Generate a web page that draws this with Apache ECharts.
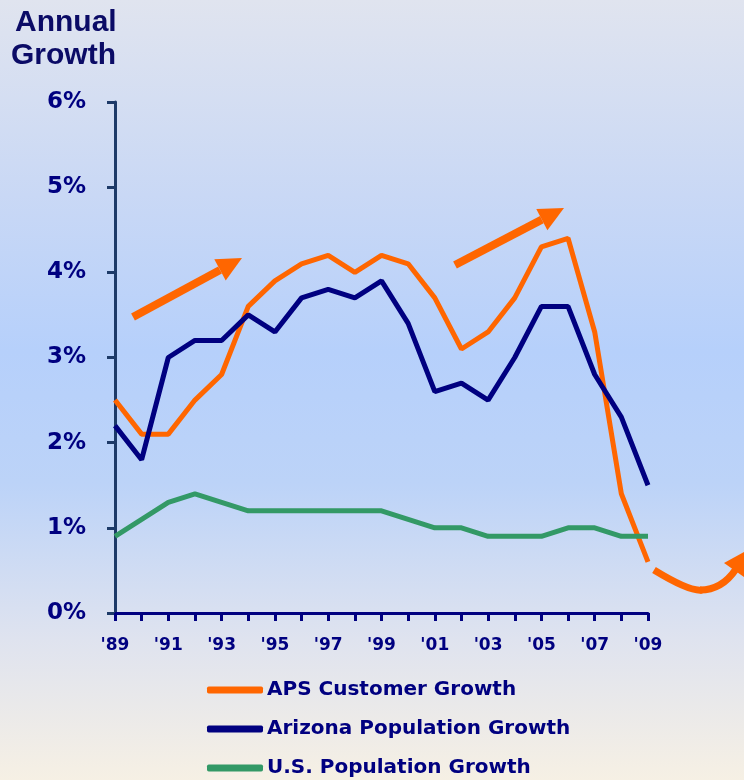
<!DOCTYPE html>
<html>
<head>
<meta charset="utf-8">
<script src="https://cdn.jsdelivr.net/npm/echarts@6/dist/echarts.min.js"></script>
<style>
  html, body { margin: 0; padding: 0; }
  body {
    width: 744px; height: 780px;
    background: linear-gradient(to bottom, #e0e4ef 0%, #c9d8f5 25%, #b6d0fb 45%, #bcd3f8 62%, #dfe3ef 82%, #f6f0e4 100%);
  }
  #main { width: 744px; height: 780px; }
</style>
</head>
<body>
<div id="main"></div>
<script>
// 年份
var years = ['89', '90', '91', '92', '93', '94', '95', '96', '97', '98', '99',
    '00', '01', '02', '03', '04', '05', '06', '07', '08', '09'];
// APS 客户增长
var apsGrowth = [2.5, 2.1, 2.1, 2.5, 2.8, 3.6, 3.9, 4.1, 4.2, 4.0, 4.2,
    4.1, 3.7, 3.1, 3.3, 3.7, 4.3, 4.4, 3.3, 1.4, 0.6];
// 亚利桑那人口增长
var azGrowth = [2.2, 1.8, 3.0, 3.2, 3.2, 3.5, 3.3, 3.7, 3.8, 3.7, 3.9,
    3.4, 2.6, 2.7, 2.5, 3.0, 3.6, 3.6, 2.8, 2.3, 1.5];
// 美国人口增长
var usGrowth = [0.9, 1.1, 1.3, 1.4, 1.3, 1.2, 1.2, 1.2, 1.2, 1.2, 1.2,
    1.1, 1.0, 1.0, 0.9, 0.9, 0.9, 1.0, 1.0, 0.9, 0.9];
var seriesNames = ['APS Customer Growth', 'Arizona Population Growth', 'U.S. Population Growth'];

var navy = '#000080';
var orange = '#ff6600';
var green = '#339966';
var heavyFont = '"DejaVu Sans", sans-serif';

var myChart = echarts.init(document.getElementById('main'));

function lineSeries(name, data, color) {
    return {
        name: name,
        type: 'line',
        data: data,
        symbol: 'none',
        lineStyle: {color: color, width: 5},
        itemStyle: {color: color},
        z: 3
    };
}

function arrow(x1, y1, x2, y2) {
    // 箭头：线段 + 三角形
    var ang = Math.atan2(y2 - y1, x2 - x1);
    var head = 25, half = 12;
    var bx = x2 - head * Math.cos(ang), by = y2 - head * Math.sin(ang);
    return [{
        type: 'line',
        shape: {x1: x1, y1: y1, x2: bx, y2: by},
        style: {stroke: orange, lineWidth: 8}
    }, {
        type: 'polygon',
        shape: {points: [[x2, y2],
            [bx + half * Math.sin(ang), by - half * Math.cos(ang)],
            [bx - half * Math.sin(ang), by + half * Math.cos(ang)]]},
        style: {fill: orange}
    }];
}

var titleFont = 'bold 30px "Liberation Sans", Arial, sans-serif';
var graphics = [{
    type: 'text',
    left: 15,
    top: 8,
    style: {text: 'Annual', fill: '#0b0b66', font: titleFont}
}, {
    type: 'text',
    left: 11,
    top: 41,
    style: {text: 'Growth', fill: '#0b0b66', font: titleFont}
}].concat(arrow(133, 317, 242, 258), arrow(455, 265, 564, 208), [{
    type: 'bezierCurve',
    shape: {x1: 654, y1: 570, cpx1: 690, cpy1: 592, x2: 702, y2: 590},
    style: {stroke: orange, lineWidth: 7, fill: null}
}, {
    type: 'bezierCurve',
    shape: {x1: 700, y1: 590, cpx1: 722, cpy1: 590, x2: 736, y2: 569},
    style: {stroke: orange, lineWidth: 7, fill: null}
}, {
    type: 'polygon',
    shape: {points: [[746, 551], [724, 563], [744, 577]]},
    style: {fill: orange}
}]);

var option = {
    animation: false,
    textStyle: {fontFamily: heavyFont},
    grid: {left: 115, right: 96, top: 102, bottom: 167, containLabel: false},
    legend: {
        orient: 'vertical',
        left: 207,
        top: 680,
        height: 100,
        padding: 0,
        itemWidth: 56,
        itemHeight: 7,
        itemGap: 19,
        icon: 'roundRect',
        textStyle: {
            color: navy, fontSize: 20, fontWeight: 'bold', fontFamily: heavyFont,
            lineHeight: 20, padding: [0, 0, 0, -1]
        },
        data: seriesNames
    },
    xAxis: {
        type: 'category',
        boundaryGap: false,
        data: years,
        axisLine: {lineStyle: {color: navy, width: 3}},
        axisTick: {show: true, interval: 0, length: 8, lineStyle: {color: navy, width: 3}},
        axisLabel: {
            interval: 1,
            margin: 24,
            color: navy,
            fontSize: 17,
            fontWeight: 'bold',
            fontFamily: heavyFont,
            formatter: function (v) { return "'" + v; }
        },
        splitLine: {show: false}
    },
    yAxis: {
        type: 'value',
        min: 0,
        max: 6,
        interval: 1,
        axisLine: {show: true, lineStyle: {color: '#1d3a68', width: 3}},
        axisTick: {show: true, length: 8, lineStyle: {color: '#1d3a68', width: 3}},
        axisLabel: {
            margin: 29,
            color: navy,
            fontSize: 23,
            fontWeight: 'bold',
            fontFamily: heavyFont,
            formatter: '{value}%'
        },
        splitLine: {show: false}
    },
    series: [
        lineSeries(seriesNames[0], apsGrowth, orange),
        lineSeries(seriesNames[1], azGrowth, navy),
        lineSeries(seriesNames[2], usGrowth, green)
    ],
    graphic: graphics
};

myChart.setOption(option);
</script>
</body>
</html>
